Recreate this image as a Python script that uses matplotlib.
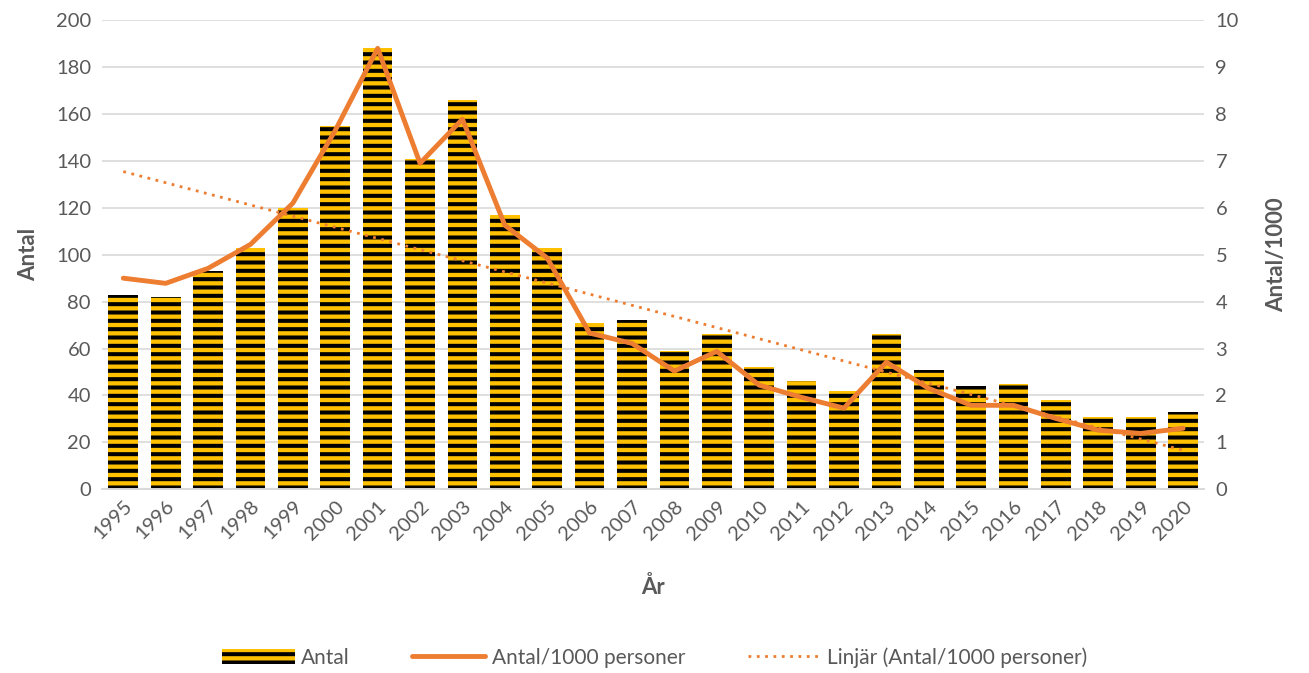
import numpy as np
import matplotlib.pyplot as plt

# Data
years = [str(y) for y in range(1995, 2021)]
antal = [83, 82, 93, 103, 120, 155, 188, 141, 166, 117, 103, 71, 72, 59, 66,
         52, 46, 42, 66, 51, 44, 45, 38, 31, 31, 33]
per_1000 = [4.5, 4.39, 4.71, 5.22, 6.1, 7.65, 9.4, 6.95, 7.89, 5.63, 4.93, 3.33,
            3.11, 2.52, 2.94, 2.22, 1.96, 1.73, 2.71, 2.15, 1.79, 1.79, 1.51,
            1.26, 1.19, 1.3]

plt.rcParams['font.family'] = ['Lato', 'DejaVu Sans']
plt.rcParams['hatch.linewidth'] = 2.9
txt = '#595959'
orange = '#ED7D31'
gold = '#FFC000'

fig = plt.figure(figsize=(13.09, 6.73), dpi=100)
ax = fig.add_axes([0.078, 0.273, 0.842, 0.697])
ax2 = ax.twinx()

x = np.arange(len(years))

# Bars with black horizontal stripes
bars = ax.bar(x, antal, width=0.7, color=gold, edgecolor='black', linewidth=0,
              hatch='--', label='Antal', zorder=2)

# Line on secondary axis
line, = ax2.plot(x, per_1000, color=orange, linewidth=3.5, solid_capstyle='round',
                 label='Antal/1000 personer', zorder=3)

# Linear trend line
k, m = np.polyfit(x, per_1000, 1)
trend, = ax2.plot(x, k * x + m, color=orange, linewidth=2, linestyle=(0, (1, 2)),
                  label='Linjär (Antal/1000 personer)', zorder=3)

ax.set_xlim(-0.5, len(years) - 0.5)
ax.set_ylim(0, 200)
ax2.set_ylim(0, 10)
ax.set_yticks(range(0, 201, 20))
ax2.set_yticks(range(0, 11, 1))
ax.set_xticks(x)
ax.set_xticklabels(years, rotation=45, ha='right', rotation_mode='anchor')

ax.grid(axis='y', color='#d9d9d9', linewidth=1.2, zorder=0)
ax.set_axisbelow(True)
for a in (ax, ax2):
    for s in ('top', 'left', 'right'):
        a.spines[s].set_visible(False)
    a.spines['bottom'].set_color('#d9d9d9')
    a.spines['bottom'].set_linewidth(1.2)
    a.tick_params(length=0, labelsize=14.5, labelcolor=txt, pad=8)
ax.tick_params(axis='x', pad=6)

ax.set_ylabel('Antal', fontsize=16, fontweight='bold', color=txt, labelpad=12)
ax2.set_ylabel('Antal/1000', fontsize=16, fontweight='bold', color=txt, labelpad=20)
ax.set_xlabel('År', fontsize=16, fontweight='bold', color=txt, labelpad=24)

fig.legend(handles=[bars, line, trend], loc='lower center', ncol=3,
           bbox_to_anchor=(0.5, -0.02), frameon=False, fontsize=15,
           labelcolor=txt, handlelength=3.5, columnspacing=3, handletextpad=0.3)

fig.savefig('out.png', dpi=100)
